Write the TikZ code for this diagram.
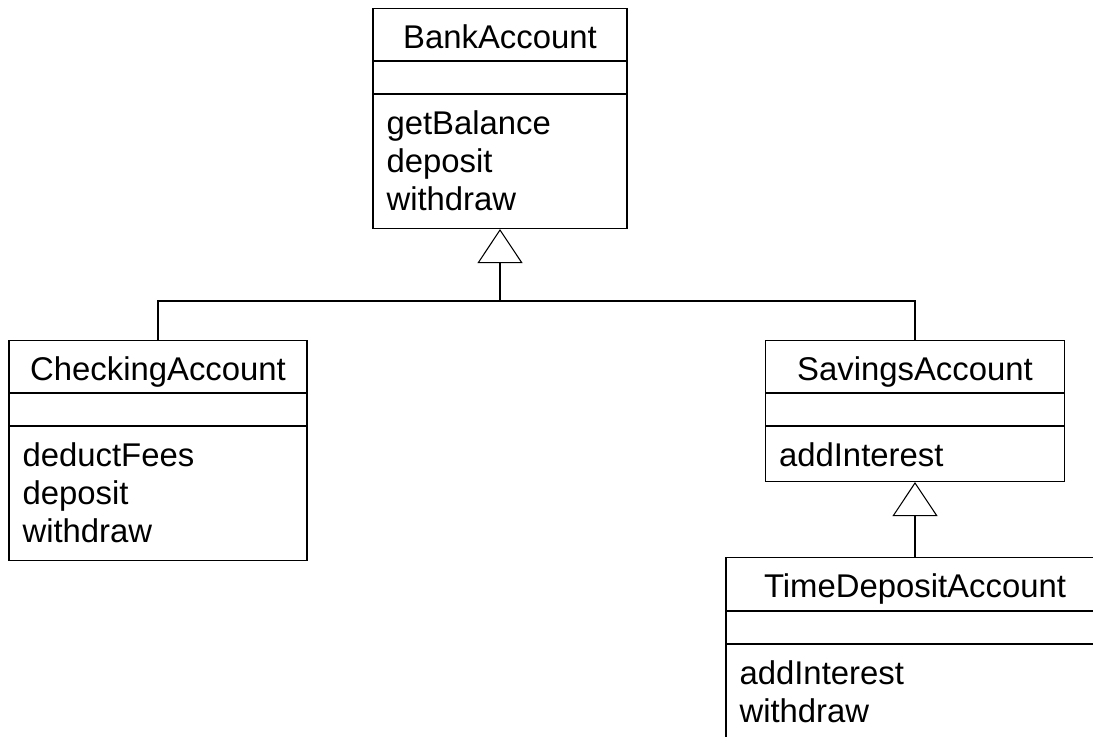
\documentclass[tikz,border=0pt]{standalone}
\usepackage{fontspec}
\setmainfont{Liberation Sans}
\usetikzlibrary{arrows.meta, positioning, calc}

\begin{document}
\begin{tikzpicture}[
  line width=0.6pt,
  classbox/.style={draw, anchor=north, inner sep=0pt},
  classname/.style={font=\fontsize{18.7}{21.6}\selectfont, anchor=base, inner sep=0pt},
  methods/.style={font=\fontsize{18.7}{21.6}\selectfont, align=left, anchor=base west, inner sep=0pt},
  divider/.style={line width=0.7pt},
  inherit/.style={-{Triangle[open, length=0.68cm, width=0.9cm]}}
]

% page, with TimeDepositAccount running off the edge
\clip (0,0) rectangle (21.86,-14.72);

% === BankAccount ===
\node[classbox, minimum width=5.08cm, minimum height=4.4cm] (bank) at (10.0,-0.16) {};
\node[classname] (banktitle) at (10.0,-0.96) {BankAccount};
\draw[divider] (7.46,-1.22) -- (12.54,-1.22);
\draw[divider] (7.46,-1.88) -- (12.54,-1.88);
\node[methods] (bankops) at (7.72,-4.2) {getBalance\\deposit\\withdraw};

% === CheckingAccount ===
\node[classbox, minimum width=5.96cm, minimum height=4.4cm] (check) at (3.16,-6.8) {};
\node[classname] (checktitle) at (3.16,-7.6) {CheckingAccount};
\draw[divider] (0.18,-7.86) -- (6.14,-7.86);
\draw[divider] (0.18,-8.52) -- (6.14,-8.52);
\node[methods] (checkops) at (0.44,-10.84) {deductFees\\deposit\\withdraw};

% === SavingsAccount ===
\node[classbox, minimum width=5.98cm, minimum height=2.82cm] (sav) at (18.3,-6.8) {};
\node[classname] (savtitle) at (18.3,-7.6) {SavingsAccount};
\draw[divider] (15.31,-7.86) -- (21.29,-7.86);
\draw[divider] (15.31,-8.52) -- (21.29,-8.52);
\node[methods] (savops) at (15.57,-9.32) {addInterest};

% === TimeDepositAccount ===
\node[classbox, minimum width=7.56cm, minimum height=3.7cm] (time) at (18.3,-11.14) {};
\node[classname] (timetitle) at (18.3,-11.94) {TimeDepositAccount};
\draw[divider] (14.52,-12.22) -- (22.08,-12.22);
\draw[divider] (14.52,-12.88) -- (22.08,-12.88);
\node[methods] (timeops) at (14.78,-14.44) {addInterest\\withdraw};

% inheritance
\coordinate (join) at (10.0,-6.02);
\draw[inherit] (join) -- (bank.south);
\draw (check.north) |- (join) -| (sav.north);
\draw[inherit] (time.north) -- (sav.south);

\end{tikzpicture}
\end{document}
